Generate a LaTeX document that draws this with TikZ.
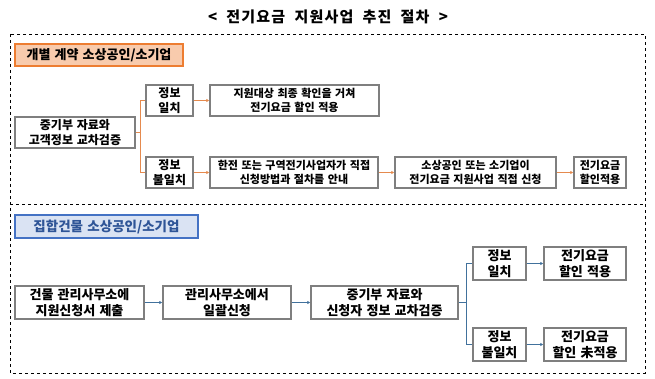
\documentclass[tikz,border=0pt]{standalone}
\usepackage{fontspec}
\setmainfont{Noto Sans CJK KR}[WordSpace=1.4]
\newfontfamily\titlefont{Noto Sans CJK KR}[WordSpace=2,LetterSpace=8]
\usetikzlibrary{arrows.meta}
\definecolor{boxgray}{HTML}{7F7F7F}
\definecolor{orln}{HTML}{E58A4E}
\definecolor{orfill}{HTML}{F8CBAD}
\definecolor{orbord}{HTML}{ED7D31}
\definecolor{blln}{HTML}{41719C}
\definecolor{blfill}{HTML}{DAE3F3}
\definecolor{blbord}{HTML}{4472C4}
\definecolor{bltext}{HTML}{2F5597}
\tikzset{
  box/.style={draw=boxgray, line width=1.4pt, fill=white, align=center, inner sep=0pt, font=\bfseries\fontsize{11}{13.5}\selectfont},
  midbox/.style={box, font=\bfseries\fontsize{12}{15}\selectfont},
  bigbox/.style={box, font=\bfseries\fontsize{13}{16}\selectfont},
  olab/.style={draw=orbord, line width=1.2pt, fill=orfill, inner sep=0pt, font=\bfseries\fontsize{13}{14}\selectfont},
  blab/.style={draw=blbord, line width=1.2pt, fill=blfill, inner sep=0pt, text=bltext, font=\bfseries\fontsize{13.5}{14}\selectfont},
  oline/.style={draw=orln, line width=1.3pt},
  oarr/.style={oline, -{Latex[length=3pt,width=3.5pt]}},
  bline/.style={draw=blln, line width=1.3pt},
  barr/.style={bline, -{Latex[length=3pt,width=3.5pt]}},
  dline/.style={draw=black, line width=0.6pt, dash pattern=on 3pt off 3pt},
}
\begin{document}
\begin{tikzpicture}[x=1pt,y=-1pt]
\useasboundingbox[fill=white] (0,0) rectangle (655,379);
\node (title) at (328,17) {\titlefont\bfseries\fontsize{15}{16}\selectfont < 전기요금 지원사업 추진 절차 >};
% dashed frames
\draw[dline] (10,34) rectangle (645,373);
\draw[dline] (10,204) -- (645,204);
% top section
\node[olab, minimum width=168pt, minimum height=22pt] (lab1) at (99,55) {개별 계약 소상공인/소기업};
\node[midbox, minimum width=120pt, minimum height=31pt] (a1) at (75,132.5) {중기부 자료와\\고객정보 교차검증};
\node[midbox, minimum width=47pt, minimum height=31pt] (m1) at (169.5,100.5) {정보\\일치};
\node[midbox, minimum width=47pt, minimum height=31pt] (u1) at (169.5,172.5) {정보\\불일치};
\node[box, minimum width=169pt, minimum height=31pt] (r1) at (294.5,100.5) {지원대상 최종 확인을 거쳐\\전기요금 할인 적용};
\node[box, minimum width=168pt, minimum height=31pt] (r2) at (294,172.5) {한전 또는 구역전기사업자가 직접\\신청방법과 절차를 안내};
\node[box, minimum width=161pt, minimum height=31pt] (r3) at (475.5,172.5) {소상공인 또는 소기업이\\전기요금 지원사업 직접 신청};
\node[box, minimum width=52pt, minimum height=31pt] (r4) at (600,172.5) {전기요금\\할인적용};
\draw[oline] (a1.east) -- ++(4.5,0) coordinate (j1);
\draw[oline] (j1) |- (m1.west);
\draw[oline] (j1) |- (u1.west);
\draw[oarr] (m1.east) -- (r1.west);
\draw[oarr] (u1.east) -- (r2.west);
\draw[oarr] (r2.east) -- (r3.west);
\draw[oarr] (r3.east) -- (r4.west);
% bottom section
\node[blab, minimum width=183pt, minimum height=23pt] (lab2) at (106.5,226.5) {집합건물 소상공인/소기업};
\node[bigbox, minimum width=129pt, minimum height=33pt] (b1) at (79.5,302.5) {건물 관리사무소에\\지원신청서 제출};
\node[bigbox, minimum width=128pt, minimum height=33pt] (b2) at (227,302.5) {관리사무소에서\\일괄신청};
\node[bigbox, minimum width=147pt, minimum height=33pt] (b3) at (384.5,302.5) {중기부 자료와\\신청자 정보 교차검증};
\node[bigbox, minimum width=53pt, minimum height=33pt] (m2) at (499.5,263.5) {정보\\일치};
\node[bigbox, minimum width=53pt, minimum height=33pt] (u2) at (499.5,344.5) {정보\\불일치};
\node[bigbox, minimum width=82pt, minimum height=33pt] (s1) at (585,263.5) {전기요금\\할인 적용};
\node[bigbox, minimum width=82pt, minimum height=33pt] (s2) at (585,344.5) {전기요금\\할인 未적용};
\draw[barr] (b1.east) -- (b2.west);
\draw[barr] (b2.east) -- (b3.west);
\draw[bline] (b3.east) -- ++(8,0) coordinate (j2);
\draw[bline] (j2) |- (m2.west);
\draw[bline] (j2) |- (u2.west);
\draw[barr] (m2.east) -- (s1.west);
\draw[barr] (u2.east) -- (s2.west);
\end{tikzpicture}
\end{document}
